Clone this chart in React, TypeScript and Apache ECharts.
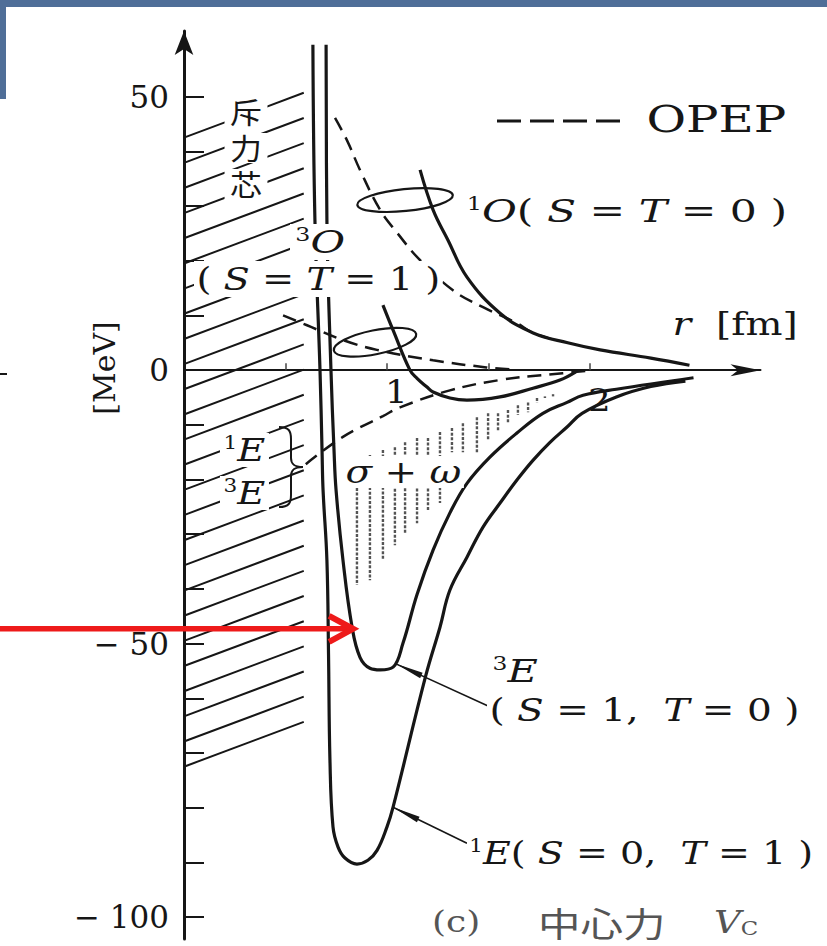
import React, { useEffect, useRef } from 'react';
import * as echarts from 'echarts';

const W = 827;
const H = 946;
const INK = '#161616';
const GREY = '#555';
const FRAME = '#4f6e98';
const SERIF = '"DejaVu Serif", "Noto Sans CJK JP", serif';
const CJK = '"Noto Sans CJK JP", "Noto Sans CJK SC", sans-serif';

// axis ranges: r in fm, V in MeV
const R_MAX = 2.84;
const V_MIN = -104;
const V_MAX = 62;

const Y_TICKS = [-100, -90, -80, -70, -60, -50, -40, -30, -20, -10, 0, 10, 20, 30, 40, 50];
const Y_LABELS = [-100, -50, 0, 50];
const X_TICKS = [0.5, 1, 1.5, 2];
const X_LABELS = [1, 2];

// central potential V_C(r) in the singlet-even channel, ¹E (S=0, T=1)
const singletEven = [
  [0.635, 59.5], [0.645, 27.4], [0.67, 0], [0.68, -14.6], [0.685, -21.9], [0.704, -34.7],
  [0.712, -52], [0.719, -71.3], [0.734, -83.5], [0.759, -87.2], [0.793, -89.2], [0.852, -90.3],
  [0.906, -89.6], [0.951, -87.8], [1.0, -83.5], [1.03, -79.9], [1.19, -56], [1.261, -47],
  [1.31, -40.2], [1.394, -34.2], [1.473, -28.7], [1.557, -24.3], [1.64, -20.1], [1.719, -16.5],
  [1.803, -13.2], [1.887, -10.4], [1.961, -7.9], [2.13, -4.9], [2.3, -3.0], [2.47, -2.0],
];

// triplet-even channel, ³E (S=1, T=0)
const tripletEven = [
  [0.7, 59.5], [0.704, 27.4], [0.724, 0], [0.739, -14.6], [0.749, -21.9], [0.783, -34.7],
  [0.828, -47], [0.867, -52.5], [0.916, -54.5], [0.966, -54.8], [1.03, -54.3], [1.079, -49.9],
  [1.148, -41], [1.227, -32.9], [1.31, -26.1], [1.394, -20.7], [1.507, -15.9], [1.64, -11.5],
  [1.768, -7.9], [1.887, -5.9], [1.966, -4.6], [2.13, -3.5], [2.51, -1.4],
];

// singlet-odd channel, ¹O (S=T=0)
const singletOdd = [
  [1.163, 36.6], [1.227, 29.3], [1.3, 23.8], [1.394, 17.0], [1.557, 10.4], [1.72, 6.8],
  [1.89, 5.0], [2.05, 3.7], [2.3, 2.2], [2.49, 0.9],
];

// triplet-odd channel, ³O (S=T=1)
const tripletOdd = [
  [0.98, 11.9], [1.03, 7.3], [1.113, 0], [1.148, -1.5], [1.197, -3.1], [1.227, -4.0],
  [1.31, -5.1], [1.394, -5.5], [1.557, -4.9], [1.719, -3.3], [1.852, -1.8], [1.93, -0.3],
];

// one-pion-exchange potential in each channel
const opepSingletOdd = [
  [0.744, 46.1], [0.803, 42], [0.867, 36.6], [0.966, 29.3], [1.05, 25.1], [1.163, 20.1],
  [1.325, 14.6], [1.473, 11.5], [1.64, 8.6], [1.72, 6.8], [1.85, 5.3],
];
const opepTripletOdd = [
  [0.488, 10], [0.606, 8.2], [0.783, 5.5], [0.95, 3.7], [1.227, 1.8], [1.49, 0.5], [1.62, 0.1],
];
const opepEven = [
  [0.6, -17.2], [0.783, -12.2], [0.98, -8.4], [1.064, -6.8], [1.31, -3.7], [1.557, -1.8],
  [1.8, -0.8], [2.0, -0.1],
];

// σ + ω shading: columns of [r, upper V, lower V]
const sigmaOmegaBand = [
  [0.852, -16.5, -39.3], [0.916, -15.5, -38.4], [0.98, -14.6, -34.7], [1.039, -14.1, -32.0],
  [1.089, -13.2, -29.8], [1.148, -12.4, -28.0], [1.202, -12.4, -25.6], [1.261, -11.3, -24.3],
  [1.32, -10.6, -15.0], [1.374, -9.7, -15.0], [1.443, -8.6, -15.0], [1.498, -7.9, -12.8],
  [1.547, -7.9, -11.0], [1.596, -7.3, -9.7], [1.645, -6.4, -8.2], [1.695, -5.9, -7.7],
  [1.739, -5.1, -6.0], [1.778, -4.8, -5.1], [1.818, -4.4, -4.8],
];

// repulsive core hatching: V where each stroke leaves r = 0
const coreHatch = [
  42.5, 37.9, 33.3, 28.7, 24.1, 19.5, 14.9, 10.3, 5.7, 1.1, -3.5, -8.1, -12.7,
  -17.3, -21.9, -26.5, -31.1, -35.7, -40.3, -44.9, -49.5, -54.1, -58.7, -63.3, -67.9, -72.5,
];
const CORE_R = 0.59;
const CORE_RISE = 8.2;

// annotation anchors in data coordinates
const loopSingletOdd = [1.089, 31.1];
const loopTripletOdd = [0.941, 5.1];
const pointerTripletEven = [[1.498, -61.4], [1.044, -53.7]];
const pointerSingletEven = [[1.394, -86.5], [1.03, -79.9]];
const redArrowTarget = [0.833, -47.3];

echarts.graphic.registerShape(
  'brace',
  echarts.graphic.extendPath(
    'M0,0 C10,0 12,4 12,12 L12,31 C12,37 15,40 24,40 C15,40 12,43 12,49 L12,68 C12,76 10,80 0,80',
    {}
  )
);

const RICH = {
  n: { fontFamily: SERIF, fontSize: 32, fill: INK },
  it: { fontFamily: SERIF, fontSize: 32, fontStyle: 'italic', fill: INK },
  sup: { fontFamily: SERIF, fontSize: 18, fill: INK, verticalAlign: 'top' },
  git: { fontFamily: SERIF, fontSize: 31, fontStyle: 'italic', fill: GREY, lineHeight: 32 },
  gsub: { fontFamily: SERIF, fontSize: 19, fill: GREY, verticalAlign: 'bottom', lineHeight: 32 },
};

function label(text: string, x: number, y: number, extra: any = {}, sx = 1) {
  return {
    type: 'text',
    x,
    y,
    scaleX: sx,
    z: 60,
    style: {
      text,
      fill: INK,
      fontFamily: SERIF,
      fontSize: 32,
      align: 'left',
      verticalAlign: 'middle',
      backgroundColor: '#fff',
      padding: [1, 2],
      rich: RICH,
      ...extra,
    },
  };
}

const solid = (name: string, data: number[][]) => ({
  name,
  type: 'line',
  data,
  showSymbol: false,
  smooth: 0.4,
  lineStyle: { color: INK, width: 3.2 },
  z: 5,
});

const dashed = (name: string, data: number[][]) => ({
  name,
  type: 'line',
  data,
  showSymbol: false,
  smooth: 0.4,
  lineStyle: { color: INK, width: 2.5, type: [14, 8] },
  z: 4,
});

export default function App() {
  const ref = useRef<HTMLDivElement>(null);

  useEffect(() => {
    if (!ref.current) return;
    const chart = echarts.init(ref.current, undefined, { renderer: 'svg', width: W, height: H });

    const option: any = {
      animation: false,
      backgroundColor: '#fff',
      grid: { left: 184, right: 66.5, top: 31, bottom: 7, containLabel: false, outerBoundsMode: 'none' },
      xAxis: {
        type: 'value',
        min: 0,
        max: R_MAX,
        axisLine: {
          onZero: true,
          lineStyle: { color: INK, width: 2 },
          symbol: ['none', 'arrow'],
          symbolSize: [9, 30],
        },
        axisTick: {
          show: true,
          inside: true,
          length: 7,
          customValues: X_TICKS,
          lineStyle: { color: '#444', width: 1.5 },
        },
        axisLabel: { show: false },
        splitLine: { show: false },
      },
      yAxis: {
        type: 'value',
        min: V_MIN,
        max: V_MAX,
        axisLine: {
          show: true,
          lineStyle: { color: INK, width: 3 },
          symbol: ['none', 'arrow'],
          symbolSize: [14, 24],
        },
        axisTick: {
          show: true,
          inside: true,
          length: 20,
          customValues: Y_TICKS,
          lineStyle: { color: INK, width: 2 },
        },
        axisLabel: {
          customValues: Y_LABELS,
          margin: 15,
          fontFamily: SERIF,
          fontSize: 31,
          color: INK,
          formatter: (v: number) => (v < 0 ? '\u2212 ' + -v : String(v)),
        },
        splitLine: { show: false },
      },
      series: [
        {
          name: 'core',
          type: 'custom',
          data: coreHatch.map((v) => [0, v]),
          encode: { x: 0, y: 1 },
          renderItem: (_p: any, api: any) => {
            const v0 = api.value(1);
            const a = api.coord([0, v0]);
            const b = api.coord([CORE_R, v0 + CORE_RISE]);
            return {
              type: 'line',
              shape: { x1: a[0], y1: a[1], x2: b[0], y2: b[1] },
              style: { stroke: INK, lineWidth: 2 },
            };
          },
          z: 2,
        },
        {
          name: 'σ+ω',
          type: 'custom',
          data: sigmaOmegaBand,
          encode: { x: 0, y: [1, 2] },
          renderItem: (_p: any, api: any) => {
            const a = api.coord([api.value(0), api.value(1)]);
            const b = api.coord([api.value(0), api.value(2)]);
            return {
              type: 'line',
              shape: { x1: a[0], y1: a[1], x2: b[0], y2: b[1] },
              style: { stroke: '#555', lineWidth: 2.4, lineDash: [3, 1.6] },
            };
          },
          z: 2,
        },
        dashed('OPEP ¹O', opepSingletOdd),
        dashed('OPEP ³O', opepTripletOdd),
        dashed('OPEP E', opepEven),
        solid('¹E', singletEven),
        solid('³E', tripletEven),
        solid('¹O', singletOdd),
        solid('³O', tripletOdd),
      ],
    };

    chart.setOption(option);

    const px = (p: number[]) => chart.convertToPixel({ gridIndex: 0 }, p) as number[];

    const pointer = (seg: number[][]) => {
      const tail = px(seg[0]);
      const tip = px(seg[1]);
      const dx = tail[0] - tip[0];
      const dy = tail[1] - tip[1];
      const len = Math.hypot(dx, dy);
      const ux = dx / len;
      const uy = dy / len;
      const bx = tip[0] + ux * 28;
      const by = tip[1] + uy * 28;
      return [
        {
          type: 'line',
          z: 40,
          shape: { x1: tail[0], y1: tail[1], x2: tip[0], y2: tip[1] },
          style: { stroke: INK, lineWidth: 1.6 },
        },
        {
          type: 'polygon',
          z: 40,
          shape: {
            points: [
              [tip[0], tip[1]],
              [bx - uy * 3, by + ux * 3],
              [bx + uy * 3, by - ux * 3],
            ],
          },
          style: { fill: INK },
        },
      ];
    };

    const loop = (c: number[], rx: number, ry: number, rot: number) => {
      const p = px(c);
      return {
        type: 'ellipse',
        z: 40,
        x: p[0],
        y: p[1],
        rotation: rot,
        shape: { cx: 0, cy: 0, rx, ry },
        style: { fill: 'none', stroke: INK, lineWidth: 2.2 },
      };
    };

    const tip = px(redArrowTarget);
    const xLabels = X_LABELS.map((v, i) => {
      const p = px([v, 0]);
      return label(
        String(v),
        p[0] - 2,
        p[1] + 22 + i * 8,
        { fontSize: 31, backgroundColor: 'transparent', padding: 0 },
        1.15
      );
    });

    const cjkChar = (ch: string, y: number) =>
      label(ch, 246, y, { fontFamily: CJK, fontSize: 29, lineHeight: 30, align: 'center', padding: [0, 5] }, 1.1);

    const graphic: any[] = [
      // slide frame
      { type: 'rect', z: 200, shape: { x: 0, y: 0, width: W, height: 7 }, style: { fill: FRAME } },
      { type: 'rect', z: 200, shape: { x: 0, y: 0, width: 6, height: 99 }, style: { fill: FRAME } },
      { type: 'line', z: 30, shape: { x1: 0, y1: 374, x2: 7, y2: 374 }, style: { stroke: INK, lineWidth: 2 } },

      // legend
      {
        type: 'line',
        z: 30,
        shape: { x1: 497, y1: 121, x2: 621, y2: 121 },
        style: { stroke: INK, lineWidth: 3, lineDash: [24, 9] },
      },
      label('OPEP', 644, 119, { fontSize: 38, backgroundColor: 'transparent' }, 1.27),

      // channel loops and pointers
      loop(loopSingletOdd, 48, 11, 0.1),
      loop(loopTripletOdd, 42, 12, 0.2),
      ...pointer(pointerTripletEven),
      ...pointer(pointerSingletEven),

      // texts
      ...xLabels,
      cjkChar('斥', 112),
      cjkChar('力', 148),
      cjkChar('芯', 184),
      label('{sup|3}{it|O}', 290, 242, { padding: [2, 4] }, 1.32),
      label('{n|( }{it|S}{n| = }{it|T}{n| = 1 )}', 194, 279, { padding: [2, 2] }, 1.2),
      label('{sup|1}{it|O}{n|( }{it|S}{n| = }{it|T}{n| = 0 )}', 464, 211, {}, 1.33),
      label('{it|r}{n|  [fm]}', 670, 324, {}, 1.22),
      label('{sup|1}{it|E}', 220, 450, { padding: [1, 3] }, 1.2),
      label('{sup|3}{it|E}', 220, 493, { padding: [1, 3] }, 1.2),
      label('{it|σ}{n| + }{it|ω}', 343, 472, { padding: [0, 2] }, 1.22),
      label('{sup|3}{it|E}', 490, 671, {}, 1.3),
      label('{n|( }{it|S}{n| = 1,  }{it|T}{n| = 0 )}', 487, 710, {}, 1.22),
      label('{sup|1}{it|E}{n|( }{it|S}{n| = 0,  }{it|T}{n| = 1 )}', 467, 853, {}, 1.19),

      // panel caption
      label('(c)', 432, 922, { fill: GREY, fontSize: 30, padding: 0, backgroundColor: 'transparent' }, 1.2),
      label('中心力', 538, 922, { fill: GREY, fontFamily: CJK, fontSize: 34, lineHeight: 34, padding: 0, backgroundColor: 'transparent' }, 1.25),
      label('{git|V}{gsub|C}', 714, 922, { fill: GREY, padding: 0, backgroundColor: 'transparent' }, 1.2),

      // brace joining ¹E and ³E to the OPEP curve
      { type: 'brace', z: 45, x: 279, y: 427, style: { fill: 'none', stroke: INK, lineWidth: 2 } },

      // red arrow
      {
        type: 'line',
        z: 150,
        shape: { x1: 0, y1: tip[1], x2: tip[0] - 3, y2: tip[1] },
        style: { stroke: '#ee1a1a', lineWidth: 5.5 },
      },
      {
        type: 'polyline',
        z: 150,
        shape: { points: [[tip[0] - 24, tip[1] - 13], [tip[0], tip[1]], [tip[0] - 24, tip[1] + 13]] },
        style: { fill: 'none', stroke: '#ee1a1a', lineWidth: 6, lineJoin: 'miter' },
      },

      // rotated axis name
      {
        type: 'text',
        z: 60,
        x: 104,
        y: 368,
        rotation: Math.PI / 2,
        style: {
          text: '[MeV]',
          fill: INK,
          fontFamily: SERIF,
          fontSize: 30,
          align: 'center',
          verticalAlign: 'middle',
        },
      },
    ];

    chart.setOption({ graphic });

    return () => chart.dispose();
  }, []);

  return (
    <div
      ref={ref}
      style={{ position: 'fixed', left: 0, top: 0, width: W, height: H, background: '#fff' }}
    />
  );
}
